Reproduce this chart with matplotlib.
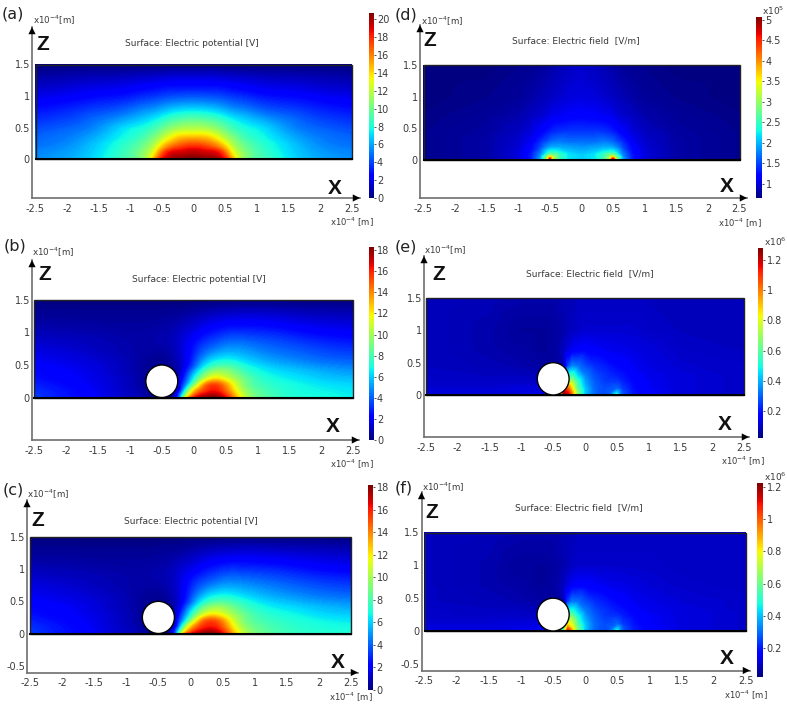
import numpy as np
import matplotlib
matplotlib.use('Agg')
import matplotlib.pyplot as plt
import matplotlib.tri as mtri
from matplotlib.cm import ScalarMappable
from matplotlib.colors import Normalize
from matplotlib.patches import Circle, Rectangle

W, H = 787, 705

# grid nodes, in units of 1e-4 m
x_pot_a = [-2.5, -2, -1.5, -1, -.75, -.6, -.5, -.25, 0, .25, .5, .6, .75, 1, 1.5, 2, 2.5]
z_pot = [0, .1, .2, .3, .4, .5, .75, 1, 1.25, 1.5]
potential_a = [
    [5.5, 6.0, 7.3, 9.5, 11.5, 15.5, 18.5, 20.0, 20.7, 20.0, 18.5, 15.5, 11.5, 9.5, 7.3, 6.0, 5.5],
    [5.3, 5.8, 7.1, 9.2, 11.2, 13.8, 16.5, 19.2, 19.6, 19.2, 16.5, 13.8, 11.2, 9.2, 7.1, 5.8, 5.3],
    [5.0, 5.5, 6.9, 8.8, 10.4, 12.3, 14.2, 17.0, 17.9, 17.0, 14.2, 12.3, 10.4, 8.8, 6.9, 5.5, 5.0],
    [4.7, 5.2, 6.5, 8.3, 9.6, 11.0, 12.3, 15.0, 15.7, 15.0, 12.3, 11.0, 9.6, 8.3, 6.5, 5.2, 4.7],
    [4.4, 4.9, 6.0, 7.8, 8.8, 9.9, 10.8, 13.0, 13.4, 13.0, 10.8, 9.9, 8.8, 7.8, 6.0, 4.9, 4.4],
    [4.0, 4.5, 5.5, 7.3, 8.0, 8.8, 9.5, 11.0, 11.4, 11.0, 9.5, 8.8, 8.0, 7.3, 5.5, 4.5, 4.0],
    [3.0, 3.4, 4.1, 5.0, 5.7, 6.1, 6.5, 7.3, 7.6, 7.3, 6.5, 6.1, 5.7, 5.0, 4.1, 3.4, 3.0],
    [1.9, 2.2, 2.6, 3.0, 3.4, 3.6, 3.8, 4.1, 4.2, 4.1, 3.8, 3.6, 3.4, 3.0, 2.6, 2.2, 1.9],
    [.9, 1.1, 1.3, 1.5, 1.7, 1.8, 1.9, 2.0, 2.0, 2.0, 1.9, 1.8, 1.7, 1.5, 1.3, 1.1, .9],
    [0, 0, 0, 0, 0, 0, 0, 0, 0, 0, 0, 0, 0, 0, 0, 0, 0],
]

x_pot_b = [-2.5, -2, -1.5, -1, -.75, -.5, -.35, -.25, -.15, 0, .15, .3, .45, .6, .75, 1, 1.5, 2, 2.5]
potential_b = [
    [3.3, 2.6, 1.9, 1.0, .6, .1, .4, 3.0, 10.0, 16.0, 17.8, 18.3, 17.4, 14.5, 11.5, 8.9, 7.3, 6.9, 6.6],
    [3.1, 2.5, 1.8, 1.0, .5, .1, .3, 1.6, 6.0, 12.5, 15.3, 16.4, 15.4, 13.0, 10.5, 8.4, 7.1, 6.7, 6.4],
    [2.8, 2.3, 1.7, .9, .4, .1, .2, 1.2, 3.8, 8.8, 13.2, 15.2, 14.2, 11.9, 9.7, 7.9, 6.9, 6.4, 6.1],
    [2.5, 2.1, 1.6, .9, .4, .1, .2, 1.0, 2.8, 6.5, 9.8, 11.8, 11.5, 10.2, 9.0, 7.5, 6.5, 5.9, 5.6],
    [2.3, 2.0, 1.5, .8, .4, .1, .3, .7, 2.1, 5.0, 7.7, 9.5, 9.7, 9.0, 8.0, 6.9, 6.0, 5.4, 5.0],
    [2.1, 1.8, 1.4, .8, .4, .2, .4, .8, 1.6, 3.6, 5.9, 7.3, 7.8, 7.6, 7.0, 6.2, 5.3, 4.7, 4.4],
    [1.5, 1.3, 1.0, .7, .6, .6, .8, 1.1, 1.6, 2.6, 3.6, 4.3, 4.8, 5.0, 4.9, 4.5, 3.9, 3.4, 3.1],
    [.9, .8, .7, .6, .6, .7, .8, 1.0, 1.3, 1.7, 2.2, 2.6, 2.9, 3.1, 3.1, 3.0, 2.6, 2.2, 2.0],
    [.4, .4, .35, .35, .35, .4, .45, .5, .6, .8, 1.0, 1.2, 1.35, 1.45, 1.5, 1.5, 1.3, 1.1, 1.0],
    [0, 0, 0, 0, 0, 0, 0, 0, 0, 0, 0, 0, 0, 0, 0, 0, 0, 0, 0],
]
potential_c = [
    [3.3, 2.6, 1.9, 1.0, .6, .1, .4, 3.0, 10.5, 16.0, 17.6, 18.2, 17.2, 14.6, 11.7, 9.2, 7.7, 7.2, 7.0],
    [3.1, 2.5, 1.8, 1.0, .5, .1, .3, 1.6, 6.3, 12.5, 15.3, 16.2, 15.4, 13.1, 10.7, 8.7, 7.5, 7.0, 6.8],
    [2.8, 2.3, 1.7, .9, .4, .1, .2, 1.2, 4.0, 9.0, 13.2, 15.0, 14.2, 12.0, 9.9, 8.2, 7.2, 6.7, 6.4],
    [2.5, 2.1, 1.6, .9, .4, .1, .2, 1.0, 3.0, 6.7, 10.0, 11.8, 11.6, 10.4, 9.2, 7.8, 6.8, 6.2, 5.9],
    [2.3, 2.0, 1.5, .8, .4, .1, .3, .7, 2.2, 5.2, 7.9, 9.6, 9.9, 9.2, 8.3, 7.2, 6.3, 5.7, 5.3],
    [2.1, 1.8, 1.4, .8, .4, .2, .4, .8, 1.7, 3.8, 6.1, 7.5, 8.0, 7.8, 7.3, 6.5, 5.6, 5.0, 4.7],
    [1.5, 1.3, 1.0, .7, .6, .6, .8, 1.1, 1.6, 2.7, 3.7, 4.4, 4.9, 5.1, 5.0, 4.7, 4.1, 3.6, 3.3],
    [.9, .8, .7, .6, .6, .7, .8, 1.0, 1.3, 1.7, 2.2, 2.6, 2.9, 3.1, 3.1, 3.0, 2.7, 2.3, 2.1],
    [.4, .4, .35, .35, .35, .4, .45, .5, .6, .8, 1.0, 1.2, 1.35, 1.45, 1.5, 1.5, 1.35, 1.2, 1.05],
    [0, 0, 0, 0, 0, 0, 0, 0, 0, 0, 0, 0, 0, 0, 0, 0, 0, 0, 0],
]

x_field_d = [-2.5, -1.5, -1, -.8, -.65, -.55, -.5, -.45, -.35, -.2, 0,
             .2, .35, .45, .5, .55, .65, .8, 1, 1.5, 2.5]
z_field_d = [0, .03, .07, .12, .2, .3, .45, .7, 1, 1.5]
field_d = [
    [.7, .8, 1.0, 1.3, 1.9, 3.2, 5.07, 3.2, 2.4, 2.2, 2.1, 2.2, 2.4, 3.2, 5.07, 3.2, 1.9, 1.3, 1.0, .8, .7],
    [.7, .8, 1.0, 1.3, 1.9, 3.0, 4.2, 3.2, 2.5, 2.2, 2.1, 2.2, 2.5, 3.2, 4.2, 3.0, 1.9, 1.3, 1.0, .8, .7],
    [.7, .8, 1.0, 1.3, 1.8, 2.6, 3.0, 2.9, 2.5, 2.2, 2.1, 2.2, 2.5, 2.9, 3.0, 2.6, 1.8, 1.3, 1.0, .8, .7],
    [.7, .8, 1.0, 1.25, 1.7, 2.2, 2.4, 2.4, 2.3, 2.1, 2.0, 2.1, 2.3, 2.4, 2.4, 2.2, 1.7, 1.25, 1.0, .8, .7],
    [.7, .8, .98, 1.2, 1.5, 1.8, 1.9, 1.95, 1.95, 1.9, 1.85, 1.9, 1.95, 1.95, 1.9, 1.8, 1.5, 1.2, .98, .8, .7],
    [.7, .8, .95, 1.1, 1.35, 1.5, 1.6, 1.65, 1.7, 1.65, 1.65, 1.65, 1.7, 1.65, 1.6, 1.5, 1.35, 1.1, .95, .8, .7],
    [.7, .78, .9, 1.0, 1.15, 1.25, 1.3, 1.35, 1.4, 1.42, 1.42, 1.42, 1.4, 1.35, 1.3, 1.25, 1.15, 1.0, .9, .78, .7],
    [.68, .75, .82, .9, .95, 1.0, 1.05, 1.08, 1.1, 1.15, 1.17, 1.15, 1.1, 1.08, 1.05, 1.0, .95, .9, .82, .75, .68],
    [.66, .7, .75, .8, .85, .88, .9, .92, .95, 1.0, 1.02, 1.0, .95, .92, .9, .88, .85, .8, .75, .7, .66],
    [.65, .66, .7, .72, .75, .78, .8, .82, .85, .9, .95, .9, .85, .82, .8, .78, .75, .72, .7, .66, .65],
]

x_field_e = [-2.5, -1.5, -1, -.75, -.6, -.45, -.33, -.27, -.2, -.12, 0, .15, .3, .42, .5, .58, .75, 1, 1.5, 2.5]
z_field_e = [0, .04, .1, .2, .3, .45, .7, 1, 1.5]
field_e = [
    [.12, .12, .13, .14, .18, .05, 1.28, 1.2, .95, .68, .42, .3, .27, .33, .55, .3, .2, .16, .12, .1],
    [.12, .12, .13, .13, .15, .05, 1.2, 1.15, .95, .65, .42, .3, .27, .3, .42, .28, .2, .16, .12, .1],
    [.11, .11, .12, .12, .12, .05, .9, 1.05, .85, .6, .42, .3, .27, .28, .3, .25, .19, .15, .12, .1],
    [.1, .1, .1, .1, .1, .06, .4, .78, .72, .55, .38, .29, .25, .25, .25, .22, .18, .15, .12, .1],
    [.1, .09, .09, .08, .07, .06, .15, .52, .56, .45, .34, .27, .24, .22, .21, .2, .17, .14, .12, .1],
    [.09, .08, .07, .06, .05, .05, .08, .25, .34, .32, .27, .23, .21, .19, .18, .17, .15, .13, .11, .1],
    [.09, .07, .06, .05, .05, .06, .09, .12, .15, .16, .17, .16, .15, .14, .14, .14, .13, .12, .1, .09],
    [.09, .07, .05, .05, .05, .06, .07, .08, .09, .1, .11, .11, .11, .11, .11, .11, .11, .1, .09, .09],
    [.09, .08, .07, .07, .07, .07, .08, .08, .08, .09, .09, .09, .09, .09, .09, .09, .09, .09, .09, .09],
]
field_f = [
    [.12, .12, .13, .15, .2, .1, .6, 1.12, .85, .62, .4, .29, .26, .32, .5, .29, .2, .16, .12, .1],
    [.12, .12, .13, .14, .16, .1, .55, 1.0, .82, .6, .4, .29, .26, .29, .4, .27, .2, .16, .12, .1],
    [.11, .11, .12, .12, .12, .08, .5, .82, .75, .56, .4, .29, .26, .27, .29, .24, .19, .15, .12, .1],
    [.1, .1, .1, .1, .1, .06, .3, .7, .65, .5, .36, .28, .24, .24, .24, .21, .18, .15, .12, .1],
    [.1, .09, .09, .08, .07, .06, .12, .48, .5, .42, .32, .26, .23, .21, .2, .19, .16, .14, .12, .1],
    [.09, .08, .07, .06, .05, .05, .08, .23, .31, .3, .26, .22, .2, .18, .17, .16, .14, .13, .11, .1],
    [.09, .07, .06, .05, .05, .06, .09, .12, .15, .16, .16, .15, .14, .13, .13, .13, .12, .11, .1, .09],
    [.09, .07, .05, .05, .05, .06, .07, .08, .09, .1, .1, .1, .1, .1, .1, .1, .1, .1, .09, .09],
    [.09, .08, .07, .07, .07, .07, .08, .08, .08, .09, .09, .09, .09, .09, .09, .09, .09, .09, .09, .09],
]

x_ticks = [-2.5, -2, -1.5, -1, -.5, 0, .5, 1, 1.5, 2, 2.5]
x_labels = ['-2.5', '-2', '-1.5', '-1', '-0.5', '0', '0.5', '1', '1.5', '2', '2.5']
z_ticks = [0, .5, 1, 1.5]
z_labels = ['0', '0.5', '1', '1.5']
z_ticks_neg = [-.5, 0, .5, 1, 1.5]
z_labels_neg = ['-0.5', '0', '0.5', '1', '1.5']

ticks_a = [0, 2, 4, 6, 8, 10, 12, 14, 16, 18, 20]
ticks_b = [0, 2, 4, 6, 8, 10, 12, 14, 16, 18]
ticks_d = [1, 1.5, 2, 2.5, 3, 3.5, 4, 4.5, 5]
labels_d = ['1', '1.5', '2', '2.5', '3', '3.5', '4', '4.5', '5']
ticks_e = [.2, .4, .6, .8, 1, 1.2]
labels_e = ['0.2', '0.4', '0.6', '0.8', '1', '1.2']

title_pot = 'Surface: Electric potential [V]'
title_field = 'Surface: Electric field  [V/m]'

# layout in picture pixels, y measured from the top
# field = left, right, top, bottom of the coloured rectangle
# axes = left line, arrow tip right, arrow tip top, bottom line
panels = [
    dict(tag='(a)', x=x_pot_a, z=z_pot, v=potential_a, lim=(0, 20.7), title=title_pot, refine=True,
         field=(35.5, 351.5, 64.5, 159), axes=(32, 360, 27, 198), cbar=(368.5, 373.5, 13, 198),
         ticks=ticks_a, labels=None, exp=None, circle=False, zt=z_ticks, zl=z_labels,
         tag_at=(2, 14), unit_top=(33, 20), title_at=(191.5, 44), z_at=(43, 44), x_at=(335, 188), unit_bot=(330, 222)),
    dict(tag='(b)', x=x_pot_b, z=z_pot, v=potential_b, lim=(0, 18.3), title=title_pot, refine=True,
         field=(34, 353.5, 300, 397.5), axes=(32, 359, 260, 440), cbar=(368.5, 373.5, 247, 440),
         ticks=ticks_b, labels=None, exp=None, circle=True, zt=z_ticks, zl=z_labels,
         tag_at=(4, 246), unit_top=(32, 252), title_at=(199, 280), z_at=(45, 275), x_at=(333, 427), unit_bot=(330, 464)),
    dict(tag='(c)', x=x_pot_b, z=z_pot, v=potential_c, lim=(0, 18.2), title=title_pot, refine=True,
         field=(30, 351, 537, 633.5), axes=(27, 358, 500, 672.5), cbar=(368, 373, 485, 690),
         ticks=ticks_b, labels=None, exp=None, circle=True, zt=z_ticks_neg, zl=z_labels_neg,
         tag_at=(3, 490), unit_top=(27, 494), title_at=(191, 521), z_at=(38, 520), x_at=(338, 663), unit_bot=(329, 697)),
    dict(tag='(d)', x=x_field_d, z=z_field_d, v=field_d, lim=(.65, 5.07), title=title_field, refine=False,
         field=(423.5, 739.5, 65, 160), axes=(420, 747, 25, 198), cbar=(756, 762, 17, 198),
         ticks=ticks_d, labels=labels_d, exp='x10$^{5}$', circle=False, zt=z_ticks, zl=z_labels,
         tag_at=(395, 15), unit_top=(421, 21), title_at=(576, 41), z_at=(430, 41), x_at=(727, 187), unit_bot=(718, 223),
         exp_at=(762, 11)),
    dict(tag='(e)', x=x_field_e, z=z_field_e, v=field_e, lim=(.02, 1.28), title=title_field, refine=False,
         field=(426, 744, 298, 395), axes=(424, 749, 256, 437), cbar=(757.5, 763, 248, 438),
         ticks=ticks_e, labels=labels_e, exp='x10$^{6}$', circle=True, zt=z_ticks, zl=z_labels,
         tag_at=(395, 247), unit_top=(424, 250), title_at=(590, 274), z_at=(439, 275), x_at=(725, 425), unit_bot=(721, 461),
         exp_at=(764, 242)),
    dict(tag='(f)', x=x_field_e, z=z_field_e, v=field_f, lim=(.02, 1.225), title=title_field, refine=False,
         field=(424.5, 746, 532.5, 631), axes=(421.5, 750, 492, 670.5), cbar=(757, 763, 483, 677),
         ticks=ticks_e, labels=labels_e, exp='x10$^{6}$', circle=True, zt=z_ticks_neg, zl=z_labels_neg,
         tag_at=(395, 488), unit_top=(422, 487), title_at=(579, 508), z_at=(432, 513), x_at=(727, 659), unit_bot=(724, 695),
         exp_at=(764, 477)),
]

TXT = '#3a3a3a'
AXC = '#6e6e6e'

fig = plt.figure(figsize=(W / 100, H / 100), dpi=100)


def box(l, r, t, b):
    return [l / W, 1 - b / H, (r - l) / W, (b - t) / H]


def put(at, s, **kw):
    fig.text(at[0] / W, 1 - at[1] / H, s, **kw)


for p in panels:
    fl, fr, ft, fb = p['field']
    al, ar, at_, ab = p['axes']
    sx = (fr - fl) / 5
    sz = (fb - ft) / 1.5

    ax = fig.add_axes(box(al, ar, at_, ab))
    ax.set_xlim(-2.5 + (al - fl) / sx, -2.5 + (ar - fl) / sx)
    ax.set_ylim((fb - ab) / sz, (fb - at_) / sz)
    ax.patch.set_visible(False)

    # colours go through the jet map; the refiner rings on the sharp e-field grids so only use it on the potentials
    norm = Normalize(p['lim'][0], p['lim'][1])
    gx, gz = np.meshgrid(p['x'], p['z'])
    tri = mtri.Triangulation(gx.ravel(), gz.ravel())
    vals = np.array(p['v'], dtype=float).ravel()
    if p['refine']:
        tri, vals = mtri.UniformTriRefiner(tri).refine_field(vals, subdiv=3)
    levels = np.linspace(p['lim'][0], p['lim'][1], 160)
    ax.tricontourf(tri, vals, levels=levels, cmap='jet', norm=norm, extend='both')

    ax.add_patch(Rectangle((-2.5, 0), 5, 1.5, fill=False, ec='#222222', lw=1.0, zorder=3))
    ax.plot([-2.5, 2.5], [0, 0], color='black', lw=1.5, zorder=4)
    if p['circle']:
        ax.add_patch(Circle((-.5, .25), .25, fc='white', ec='black', lw=1.0, zorder=5))

    for side in ['top', 'right']:
        ax.spines[side].set_visible(False)
    for side in ['left', 'bottom']:
        ax.spines[side].set_color(AXC)
        ax.spines[side].set_linewidth(1.2)
    ax.set_xticks(x_ticks, x_labels)
    ax.set_yticks(p['zt'], p['zl'])
    ax.tick_params(length=0, labelsize=7, labelcolor=TXT)
    ax.tick_params(axis='x', pad=4)
    ax.tick_params(axis='y', pad=1.5)

    # arrow heads at the axis ends
    arrow = dict(arrowstyle='-|>', color='black', lw=0, mutation_scale=13, shrinkA=0, shrinkB=0)
    ax.annotate('', xy=(0, 1), xytext=(0, .93), xycoords='axes fraction', arrowprops=arrow)
    ax.annotate('', xy=(1, 0), xytext=(.96, 0), xycoords='axes fraction', arrowprops=arrow)

    cax = fig.add_axes(box(*p['cbar']))
    cb = fig.colorbar(ScalarMappable(norm=norm, cmap='jet'), cax=cax)
    cb.outline.set_visible(False)
    cb.set_ticks(p['ticks'], labels=p['labels'] if p['labels'] else [str(t) for t in p['ticks']])
    cb.ax.tick_params(length=1.5, width=.6, pad=1, labelsize=7, labelcolor=TXT, color='#333333')
    cb.ax.minorticks_off()

    put(p['tag_at'], p['tag'], fontsize=11.5, color='#222222', va='center', ha='left')
    put(p['unit_top'], 'x10$^{-4}$[m]', fontsize=6.3, color=TXT, va='center', ha='left')
    put(p['unit_bot'], 'x10$^{-4}$ [m]', fontsize=6.1, color=TXT, va='center', ha='left')
    put(p['title_at'], p['title'], fontsize=6.5, color=TXT, va='center', ha='center')
    put(p['z_at'], 'Z', fontsize=15, fontweight='bold', family='Liberation Sans', color='#111111', va='center', ha='center')
    put(p['x_at'], 'X', fontsize=15, fontweight='bold', family='Liberation Sans', color='#111111', va='center', ha='center')
    if p['exp']:
        put(p['exp_at'], p['exp'], fontsize=6.5, color=TXT, va='center', ha='left')

fig.savefig('out.png', dpi=100)
plt.close(fig)
